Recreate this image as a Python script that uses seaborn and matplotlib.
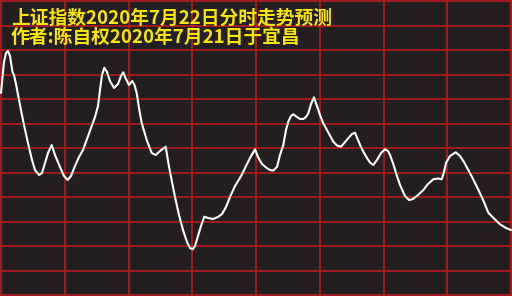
import numpy as np
import pandas as pd
import matplotlib
matplotlib.use("Agg")
import matplotlib.pyplot as plt
import seaborn as sns

# Pixel-read trace converted to chart units
# x: minutes of the trading session (0..240), y: grid units (0..12)
px_x = [1, 4, 6, 8, 10, 11.5, 12.5, 14, 16, 20, 24, 28, 32, 35, 39, 42, 45, 48, 51.7,
        55, 60, 64, 67.7, 71, 75, 79, 83, 87, 91, 95, 98, 100, 102, 104.3, 107, 110, 114,
        118, 121, 123.3, 125.5, 129, 132.3, 134.5, 136.7, 139, 141.7, 146.7, 151.7, 155.7,
        160, 165.7, 169, 172, 175, 179, 183, 187, 190, 192.7, 195, 198, 201, 204.3, 208,
        213, 218, 222, 226, 230, 235, 241.7, 246, 250, 255, 258, 262, 266, 270, 273.3, 277,
        280, 283.3, 286, 288.3, 291, 293.3, 297, 300, 303.3, 306, 308.3, 311, 314, 317, 320,
        323.3, 328, 333.3, 337, 341, 345, 348.3, 352, 355, 358, 361, 363.3, 367, 370, 373.3,
        377, 381, 385, 388, 390, 393.3, 396, 400, 405, 409, 413, 418, 423.3, 428, 433.3, 438,
        441.7, 444, 446, 450, 455.7, 460, 464, 468.3, 472, 476, 480, 484, 488.3, 494, 500,
        506, 511]
px_y = [93, 62, 53, 51, 56, 66, 72, 75, 84, 105, 125, 143, 160, 170, 175, 173, 163, 153, 145,
        155, 167, 176, 180, 176, 166, 157, 150, 139, 128, 117, 106, 90, 75, 67.7, 72, 81, 88,
        84, 76, 72.3, 78, 85, 81, 85, 93, 108, 123, 140, 153, 155,
        151, 146.7, 166.7, 182, 197, 215, 230, 242, 248, 249.3, 246, 236, 226, 216.7, 218,
        219, 217, 214, 207, 197, 186, 175, 166, 158, 149.3, 157, 164, 167.5, 170, 170.5, 167,
        155, 145, 130, 121.7, 116, 114.3, 117, 119, 119, 117, 113.3, 104, 97.3, 106, 115,
        123.3, 132, 141.7, 145.5, 146.7, 142, 138.3, 134, 132.7, 140, 147, 151.7, 158, 162.5, 165,
        160, 153, 149.3, 151, 155, 164, 173, 185, 196, 200, 199, 195, 190, 184, 179.3, 178.5,
        179.3, 172, 163, 156, 152.3, 156, 162, 170, 177, 185, 193.3, 202, 212.7, 218.5, 224.3,
        228, 230]

minutes = [(x - 1) / 63.75 * 30 for x in px_x]
level = [(295 - y) / 24.5 for y in px_y]

title_lines = ["上证指数2020年7月22日分时走势预测", "作者:陈自权2020年7月21日于宜昌"]

sns.set_theme(style="dark")
plt.rcParams['font.family'] = ['Noto Sans CJK SC', 'DejaVu Sans']

BG = "#231f20"
GRID = "#c8191e"
fig = plt.figure(figsize=(5.12, 2.96), dpi=100, facecolor=BG)
ax = fig.add_axes([0, 0, 1, 1])
ax.set_facecolor(BG)

df = pd.DataFrame({"t": minutes, "v": level})
sns.lineplot(data=df, x="t", y="v", ax=ax, color="white", linewidth=1.5, sort=False)

ax.set_xlim(-30 / 63.75, 511 / 63.75 * 30)
ax.set_ylim(-1 / 24.5, 295 / 24.5)
ax.set_xticks(np.arange(0, 241, 30))
ax.set_yticks(np.arange(0, 13, 1))
ax.grid(True, color=GRID, linewidth=1.1)
ax.tick_params(length=0, labelbottom=False, labelleft=False)
ax.set_xlabel("")
ax.set_ylabel("")
for s in ax.spines.values():
    s.set_visible(False)
ax.set_axisbelow(True)

ax.text(11 / 512, 1 - 28 / 296, "\n".join(title_lines), transform=ax.transAxes,
        color="#f7e600", fontsize=13.5, fontweight="bold", va="center", ha="left",
        multialignment="left", linespacing=1.0)

fig.savefig("out.png", dpi=100, facecolor=BG)
